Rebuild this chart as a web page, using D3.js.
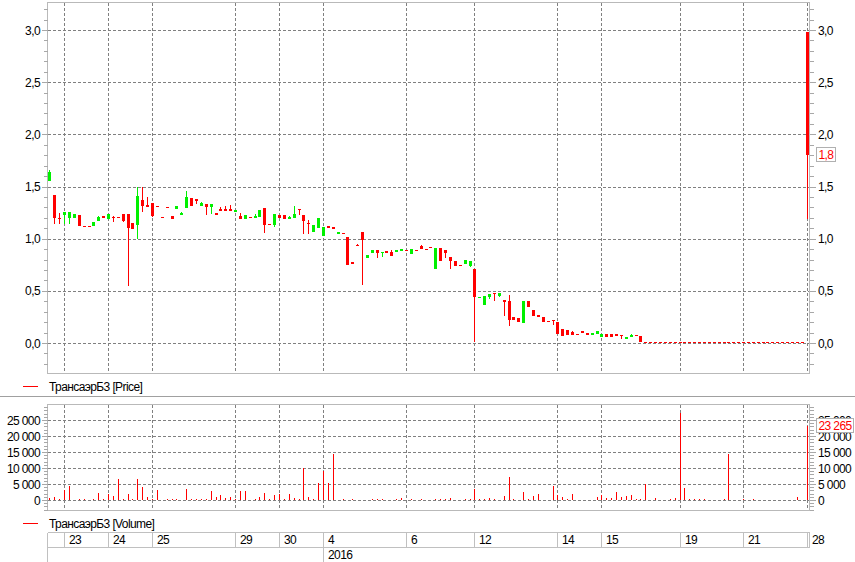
<!DOCTYPE html>
<html><head><meta charset="utf-8">
<script src="https://cdn.jsdelivr.net/npm/d3@7/dist/d3.min.js"></script>
<style>
html,body{margin:0;padding:0;background:#fff;}
svg{display:block;}
text{font-family:"Liberation Sans",Arial,sans-serif;font-size:12px;letter-spacing:-0.6px;fill:#000;}
</style></head><body>
<svg id="chart" width="855" height="562"></svg>
<script>
const seriesName = "ТрансаэрБ3";

const opens = [
 1.55,1.42,1.20,1.23,1.20,1.195,1.23,1.12,1.12,1.12,
 1.17,1.22,1.19,1.21,1.205,1.24,1.24,1.15,1.13,1.37,
 1.32,1.34,1.31,1.21,1.30,1.22,1.285,1.23,1.29,1.39,
 1.38,1.31,1.33,1.30,1.245,1.28,1.28,1.28,1.255,1.22,
 1.19,1.205,1.20,1.21,1.29,1.145,1.13,1.23,1.225,1.19,
 1.20,1.28,1.225,1.15,1.065,1.10,1.025,1.118,1.11,1.045,
 1.058,1.02,0.78,0.94,1.06,0.815,0.86,0.89,0.862,0.878,
 0.87,0.868,0.878,0.888,0.852,0.888,0.926,0.897,0.923,0.71,
 0.907,0.89,0.82,0.782,0.75,0.753,0.737,0.714,0.43,0.368,
 0.445,0.48,0.448,0.416,0.407,0.253,0.243,0.195,0.407,0.32,
 0.272,0.253,0.214,0.224,0.205,0.137,0.128,0.102,0.089,0.118,
 0.099,0.073,0.083,0.058,0.089,0.089,0.089,0.08,0.035,0.054,
 0.08,0.07,0.01,0.01,0.01,0.01,0.01,0.01,0.01,0.01,
 0.01,0.01,0.01,0.01,0.01,0.01,0.01,0.01,0.01,0.01,
 0.01,0.01,0.01,0.01,0.01,0.01,0.01,0.01,0.01,0.01,
 0.01,0.01,0.01,0.01,0.01,2.98
];
const highs = [
 1.66,1.42,1.25,1.26,1.26,1.235,1.23,1.12,1.12,1.16,
 1.22,1.22,1.24,1.22,1.205,1.24,1.24,1.15,1.50,1.50,
 1.40,1.34,1.31,1.21,1.30,1.22,1.31,1.26,1.455,1.39,
 1.38,1.355,1.33,1.33,1.245,1.30,1.31,1.32,1.275,1.25,
 1.225,1.205,1.235,1.27,1.29,1.145,1.24,1.23,1.225,1.22,
 1.31,1.28,1.225,1.18,1.13,1.195,1.115,1.118,1.11,1.06,
 1.058,1.02,0.78,0.945,1.06,0.84,0.89,0.89,0.875,0.878,
 0.89,0.888,0.897,0.888,0.897,0.888,0.94,0.897,0.923,0.907,
 0.907,0.89,0.82,0.782,0.75,0.791,0.782,0.714,0.445,0.455,
 0.474,0.48,0.48,0.416,0.464,0.253,0.243,0.407,0.407,0.32,
 0.272,0.253,0.214,0.224,0.205,0.137,0.128,0.118,0.089,0.118,
 0.099,0.099,0.118,0.089,0.089,0.089,0.089,0.08,0.06,0.087,
 0.08,0.07,0.01,0.01,0.01,0.01,0.01,0.01,0.01,0.01,
 0.01,0.01,0.01,0.01,0.01,0.01,0.01,0.01,0.01,0.01,
 0.01,0.01,0.01,0.01,0.01,0.01,0.01,0.01,0.01,0.01,
 0.01,0.01,0.01,0.01,0.01,2.98
];
const lows = [
 1.55,1.14,1.14,1.14,1.14,1.195,1.12,1.12,1.12,1.12,
 1.17,1.195,1.19,1.16,1.205,1.16,0.55,1.09,1.00,1.26,
 1.30,1.205,1.31,1.21,1.30,1.19,1.285,1.23,1.29,1.31,
 1.335,1.31,1.23,1.24,1.225,1.265,1.265,1.265,1.255,1.19,
 1.19,1.205,1.20,1.21,1.05,1.145,1.115,1.20,1.19,1.19,
 1.20,1.23,1.045,1.045,1.065,1.10,1.025,1.10,1.09,1.045,
 1.058,0.745,0.755,0.93,0.555,0.815,0.86,0.815,0.828,0.862,
 0.833,0.868,0.878,0.888,0.852,0.888,0.90,0.897,0.923,0.705,
 0.79,0.81,0.714,0.737,0.75,0.753,0.727,0.005,0.43,0.368,
 0.426,0.407,0.439,0.256,0.16,0.22,0.205,0.195,0.349,0.256,
 0.246,0.205,0.214,0.17,0.083,0.064,0.08,0.08,0.089,0.092,
 0.08,0.073,0.083,0.058,0.058,0.058,0.064,0.041,0.035,0.054,
 0.064,0.006,0.01,0.01,0.01,0.01,0.01,0.01,0.01,0.01,
 0.01,0.01,0.01,0.01,0.01,0.01,0.01,0.01,0.01,0.01,
 0.01,0.01,0.01,0.01,0.01,0.01,0.01,0.01,0.01,0.01,
 0.01,0.01,0.01,0.01,0.01,1.185
];
const closes = [
 1.64,1.20,1.20,1.26,1.26,1.235,1.12,1.12,1.12,1.16,
 1.21,1.195,1.24,1.20,1.205,1.17,1.10,1.09,1.41,1.31,
 1.30,1.215,1.31,1.21,1.30,1.19,1.31,1.245,1.40,1.31,
 1.36,1.345,1.30,1.33,1.225,1.265,1.265,1.265,1.275,1.19,
 1.225,1.205,1.215,1.27,1.13,1.145,1.24,1.20,1.19,1.21,
 1.24,1.27,1.17,1.145,1.13,1.195,1.115,1.10,1.09,1.06,
 1.058,0.745,0.755,0.93,0.985,0.84,0.89,0.862,0.875,0.862,
 0.833,0.888,0.897,0.888,0.897,0.888,0.90,0.897,0.923,0.907,
 0.79,0.865,0.79,0.737,0.75,0.791,0.782,0.44,0.445,0.455,
 0.474,0.475,0.48,0.397,0.224,0.224,0.205,0.407,0.349,0.256,
 0.246,0.205,0.214,0.208,0.083,0.064,0.08,0.08,0.089,0.092,
 0.08,0.099,0.118,0.089,0.058,0.058,0.064,0.064,0.06,0.077,
 0.064,0.006,0.01,0.01,0.01,0.01,0.01,0.01,0.01,0.01,
 0.01,0.01,0.01,0.01,0.01,0.01,0.01,0.01,0.01,0.01,
 0.01,0.01,0.01,0.01,0.01,0.01,0.01,0.01,0.01,0.01,
 0.01,0.01,0.01,0.01,0.01,1.80
];
const volumes = [
 730,940,300,3125,4375,0,300,100,0,100,
 2190,400,1875,1250,6560,300,1875,100,6560,4060,
 1040,200,3125,0,100,400,300,0,3440,200,
 100,100,100,2920,1040,1560,730,1040,300,2920,
 2920,0,200,1040,2190,150,1560,1875,400,1875,
 730,100,10000,940,100,5300,9060,5300,14375,0,
 100,0,100,0,0,0,150,150,150,0,
 0,400,625,0,100,0,100,0,0,300,
 100,100,730,0,0,100,100,3330,300,300,
 625,100,0,1250,7190,150,0,2600,100,1250,
 1980,0,0,4480,1460,940,100,1980,0,0,
 0,0,940,1560,730,730,2600,1040,1250,1560,
 300,300,5000,0,625,0,0,300,625,27080,
 3650,100,100,300,300,0,0,0,150,14375,
 0,0,300,0,100,0,0,0,0,0,
 0,0,0,940,0,23265
];
const dayStartIndex = [3,12,21,38,47,56,73,87,104,113,129,142,155];
const dayLabels = ["23","24","25","29","30","4","6","12","14","15","19","21","28"];
const yearLabels = [{index:56, label:"2016"}];
const priceTicks = [0,0.5,1,1.5,2,2.5,3];
const volumeTicks = [0,5000,10000,15000,20000,25000];

const loc = d3.formatLocale({decimal:",", thousands:"\u00a0", grouping:[3], currency:["",""]});
const fmtPrice = loc.format(".1f");
const fmtVol = v => loc.format(",")(v).replace(/\u00a0/g," ");

const svg = d3.select("#chart");
const W = 855;
const plotL = 47.5, plotR = 809.5;
const RED = "#ff0000", GREEN = "#00f000";
const BORDER = "#b9b9b9", GRID = "#808080", TICK = "#a8a8a8";

const idx = d3.range(opens.length);
const x = d3.scaleBand().domain(idx).range([plotL, plotR]).padding(0);
const cx = i => Math.floor(x(i) + x.bandwidth()/2) + 0.5;

// ---------- price panel ----------
const pTop = 2.5, pBot = 373.5;
const y = d3.scaleLinear().domain([0,3]).range([343, 30]);
const pg = svg.append("g").attr("shape-rendering","crispEdges");

// grid
pg.selectAll(".hg").data(priceTicks).join("line")
  .attr("x1",plotL).attr("x2",plotR)
  .attr("y1",d=>Math.round(y(d))+0.5).attr("y2",d=>Math.round(y(d))+0.5)
  .attr("stroke",GRID).attr("stroke-dasharray","3,2");
pg.selectAll(".vg").data(dayStartIndex).join("line")
  .attr("x1",d=>cx(d)).attr("x2",d=>cx(d))
  .attr("y1",pTop).attr("y2",pBot)
  .attr("stroke",GRID).attr("stroke-dasharray","3,2");

// border
pg.append("rect").attr("x",plotL).attr("y",pTop).attr("width",plotR-plotL).attr("height",pBot-pTop)
  .attr("fill","none").attr("stroke",BORDER);

// minor/major ticks
const pMinor = d3.range(-2,33).map(k=>k/10);
pMinor.forEach(v=>{
  const yy = Math.round(y(v))+0.5;
  if (yy < pTop || yy > pBot) return;
  const major = Math.abs(v*2 - Math.round(v*2)) < 1e-6;
  const len = major ? 6 : 4;
  pg.append("line").attr("x1",plotL-len).attr("x2",plotL).attr("y1",yy).attr("y2",yy).attr("stroke",TICK);
  pg.append("line").attr("x1",plotR).attr("x2",plotR+len).attr("y1",yy).attr("y2",yy).attr("stroke",TICK);
});
svg.selectAll(".pl").data(priceTicks).join("text")
  .attr("x",40).attr("y",d=>y(d)+4.5).attr("text-anchor","end").text(d=>fmtPrice(d));
svg.selectAll(".pr").data(priceTicks).join("text")
  .attr("x",818).attr("y",d=>y(d)+4.5).attr("text-anchor","start").text(d=>fmtPrice(d));

// candles
const cg = svg.append("g").attr("shape-rendering","crispEdges");
idx.forEach(i=>{
  const o=opens[i], c=closes[i], h=highs[i], l=lows[i];
  const col = c > o ? GREEN : RED;
  const xc = Math.floor(x(i) + x.bandwidth()/2);
  const yh = Math.round(y(h)), yl = Math.round(y(l));
  if (yl - yh > 0) cg.append("rect").attr("x",xc).attr("y",yh).attr("width",1).attr("height",yl-yh).attr("fill",col);
  const yt = Math.round(y(Math.max(o,c))), yb = Math.round(y(Math.min(o,c)));
  cg.append("rect").attr("x",xc-1).attr("y",yt).attr("width",3).attr("height",Math.max(1,yb-yt)).attr("fill",col);
});

// last price label
const lastC = closes[closes.length-1];
const ly = y(lastC);
svg.append("rect").attr("x",816.5).attr("y",Math.round(ly)-7.5).attr("width",19).attr("height",14)
  .attr("fill","#fff").attr("stroke","#b0b0b0").attr("shape-rendering","crispEdges");
svg.append("text").attr("x",826).attr("y",Math.round(ly)+4).attr("text-anchor","middle")
  .style("fill",RED).text(fmtPrice(lastC));

// legend price
svg.append("line").attr("x1",23).attr("x2",38).attr("y1",386.5).attr("y2",386.5).attr("stroke",RED).attr("shape-rendering","crispEdges");
svg.append("text").attr("x",49).attr("y",391).text(seriesName + " [Price]");

// separator
svg.append("line").attr("x1",0).attr("x2",W).attr("y1",396.5).attr("y2",396.5).attr("stroke","#a0a0a0").attr("shape-rendering","crispEdges");

// ---------- volume panel ----------
const vTop = 404.5, vBot = 510.5;
const yv = d3.scaleLinear().domain([0,25000]).range([500, 420]);
const vg = svg.append("g").attr("shape-rendering","crispEdges");
vg.selectAll(".hg").data(volumeTicks).join("line")
  .attr("x1",plotL).attr("x2",plotR)
  .attr("y1",d=>Math.round(yv(d))+0.5).attr("y2",d=>Math.round(yv(d))+0.5)
  .attr("stroke",GRID).attr("stroke-dasharray","3,2");
vg.selectAll(".vg").data(dayStartIndex).join("line")
  .attr("x1",d=>cx(d)).attr("x2",d=>cx(d))
  .attr("y1",vTop).attr("y2",vBot)
  .attr("stroke",GRID).attr("stroke-dasharray","3,2");
vg.append("rect").attr("x",plotL).attr("y",vTop).attr("width",plotR-plotL).attr("height",vBot-vTop)
  .attr("fill","none").attr("stroke",BORDER);
d3.range(-3000,30000,1000).forEach(v=>{
  const yy = Math.round(yv(v))+0.5;
  if (yy < vTop || yy > vBot) return;
  const len = (v % 5000 === 0) ? 6 : 4;
  vg.append("line").attr("x1",plotL-len).attr("x2",plotL).attr("y1",yy).attr("y2",yy).attr("stroke",TICK);
  vg.append("line").attr("x1",plotR).attr("x2",plotR+len).attr("y1",yy).attr("y2",yy).attr("stroke",TICK);
});
svg.selectAll(".vl").data(volumeTicks).join("text")
  .attr("x",40).attr("y",d=>yv(d)+4.5).attr("text-anchor","end").text(d=>fmtVol(d));
svg.selectAll(".vr").data(volumeTicks).join("text")
  .attr("x",818).attr("y",d=>yv(d)+4.5).attr("text-anchor","start").text(d=>fmtVol(d));

const bg = svg.append("g").attr("shape-rendering","crispEdges");
idx.forEach(i=>{
  const v = volumes[i];
  if (v <= 0) return;
  const xc = Math.floor(x(i) + x.bandwidth()/2);
  const y0 = Math.round(yv(0)), y1 = Math.round(yv(v));
  bg.append("rect").attr("x",xc).attr("y",Math.min(y1,y0-1)).attr("width",1)
    .attr("height",Math.max(1,y0-y1)).attr("fill",RED);
});

const lastV = volumes[volumes.length-1];
const lvy = Math.round(yv(lastV));
svg.append("rect").attr("x",816.5).attr("y",lvy-7.5).attr("width",37).attr("height",14)
  .attr("fill","#fff").attr("stroke","#b0b0b0").attr("shape-rendering","crispEdges");
svg.append("text").attr("x",835).attr("y",lvy+4).attr("text-anchor","middle")
  .style("fill",RED).text(fmtVol(lastV));

// legend volume
svg.append("line").attr("x1",23).attr("x2",38).attr("y1",523.5).attr("y2",523.5).attr("stroke",RED).attr("shape-rendering","crispEdges");
svg.append("text").attr("x",49).attr("y",528).text(seriesName + " [Volume]");

// ---------- time axis ----------
const tg = svg.append("g").attr("shape-rendering","crispEdges").attr("stroke","#c0c0c0");
tg.append("line").attr("x1",plotL).attr("x2",plotR).attr("y1",532.5).attr("y2",532.5);
tg.append("line").attr("x1",plotL).attr("x2",plotR).attr("y1",547.5).attr("y2",547.5);
tg.append("line").attr("x1",plotL).attr("x2",plotL).attr("y1",532.5).attr("y2",562);
tg.append("line").attr("x1",plotR).attr("x2",plotR).attr("y1",532.5).attr("y2",547.5);
tg.selectAll(".ds").data(dayStartIndex).join("line")
  .attr("x1",d=>cx(d)).attr("x2",d=>cx(d)).attr("y1",532.5).attr("y2",547.5);
tg.selectAll(".ys").data(yearLabels).join("line")
  .attr("x1",d=>cx(d.index)).attr("x2",d=>cx(d.index)).attr("y1",547.5).attr("y2",562);
svg.selectAll(".dl").data(dayStartIndex).join("text")
  .attr("x",d=>cx(d)+4.5).attr("y",544).text((d,k)=>dayLabels[k]);
svg.selectAll(".yl").data(yearLabels).join("text")
  .attr("x",d=>cx(d.index)+4.5).attr("y",558.5).text(d=>d.label);
</script>
</body></html>
